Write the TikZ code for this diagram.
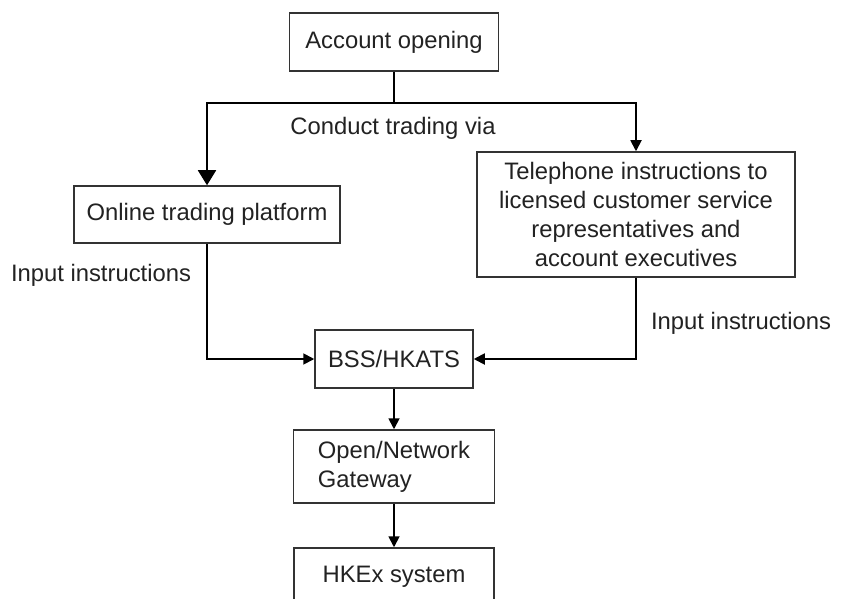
\documentclass[tikz,border=0pt]{standalone}
\usepackage{fontspec}
\setmainfont{Liberation Sans}
\usetikzlibrary{arrows.meta}
\definecolor{ink}{HTML}{222222}
\definecolor{frame}{HTML}{333333}
\begin{document}
\begin{tikzpicture}[x=1pt,y=-1pt,
  font=\fontsize{23.8}{29}\selectfont,
  box/.style={draw=frame,line width=1.5pt,text=ink,inner sep=0pt,align=center},
  link/.style={line width=1.8pt,-{Triangle[length=11pt,width=11pt]}},
  biglink/.style={line width=1.8pt,-{Triangle[length=15pt,width=18pt]}},
  note/.style={text=ink,inner sep=0pt}]
\clip (0,0) rectangle (841,599);
\fill[white] (0,0) rectangle (841,599);

% process boxes
\node[box,minimum width=209pt,minimum height=58pt] (acct) at (394,42) {Account opening};
\node[box,minimum width=266pt,minimum height=57pt] (online) at (207,214.5) {Online trading platform};
\node[box,minimum width=318pt,minimum height=125pt] (tel) at (636,214.5)
  {Telephone instructions to\\licensed customer service\\representatives and\\account executives};
\node[box,minimum width=158pt,minimum height=58pt] (bss) at (394,359) {BSS/HKATS};
\node[box,minimum width=201pt,minimum height=73pt,align=left] (gw) at (394,466.5) {Open/Network\\Gateway};
\node[box,minimum width=200pt,minimum height=58pt] (hkex) at (394,577) {HKEx system};

% branching from account opening
\coordinate (split) at (394,103);
\draw[line width=1.8pt] (acct.south) -- (split);
\draw[biglink] (split) -| (online.north);
\draw[link] (split) -| (tel.north);

% instructions into the trading system
\draw[link] (online.south) |- (bss.west);
\draw[link] (tel.south) |- (bss.east);
\draw[link] (bss.south) -- (gw.north);
\draw[link] (gw.south) -- (hkex.north);

% labels
\node[note] (via) at (393,128) {Conduct trading via};
\node[note] (inL) at (101,275) {Input instructions};
\node[note] (inR) at (741,323) {Input instructions};
\end{tikzpicture}
\end{document}
